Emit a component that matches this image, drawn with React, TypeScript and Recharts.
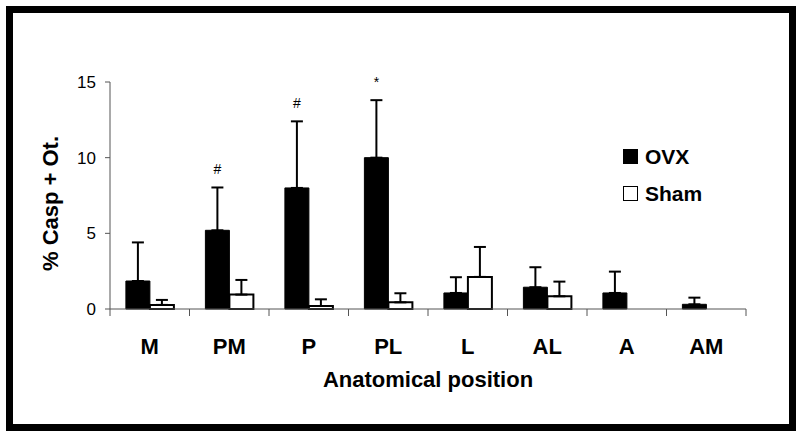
import { Bar, BarChart, ErrorBar, LabelList, Legend, XAxis, YAxis } from "recharts";

const categories = ["M", "PM", "P", "PL", "L", "AL", "A", "AM"];
const ovx = [1.85, 5.2, 8.0, 10.0, 1.06, 1.44, 1.06, 0.31];
const ovxErr = [2.55, 2.83, 4.4, 3.8, 1.04, 1.32, 1.41, 0.44];
const sham = [0.27, 0.95, 0.2, 0.44, 2.12, 0.84, 0, 0];
const shamErr = [0.33, 0.97, 0.44, 0.6, 1.98, 0.97, 0, 0];
const notes = ["", "#", "#", "*", "", "", "", ""];
const yTicks = [0, 5, 10, 15];

const FONT = "'Liberation Sans', Arial, sans-serif";
const W = 800;
const H = 436;
const MARGIN = { top: 82, right: 54, bottom: 47, left: 50 };
const Y_W = 60;
const BAND = (W - MARGIN.left - MARGIN.right - Y_W) / categories.length;
const AXIS = "#555";

const data = categories.map((c, i) => ({
  name: c,
  ovx: ovx[i],
  ovxErr: [0, ovxErr[i]],
  sham: sham[i],
  shamErr: [0, shamErr[i]],
  note: notes[i],
}));

// ticks sit between the groups, like the original excel chart
const XTick = (props: any) => {
  const { x, y, payload, index } = props;
  const half = payload?.offset || BAND / 2;
  return (
    <g>
      <line x1={x - half} x2={x - half} y1={y} y2={y + 7} stroke={AXIS} />
      {index === categories.length - 1 && (
        <line x1={x + half} x2={x + half} y1={y} y2={y + 7} stroke={AXIS} />
      )}
      <text x={x} y={y + 45} textAnchor="middle" fontSize={22} fontWeight="bold" fontFamily={FONT} fill="#000">
        {payload.value}
      </text>
    </g>
  );
};

const NoteLabel = (props: any) => {
  const { x, y, width, height, index, value } = props;
  if (!value) return null;
  const perUnit = height / ovx[index];
  const top = y - ovxErr[index] * perUnit;
  return (
    <text x={x + width / 2} y={top - 13} textAnchor="middle" fontSize={14} fontFamily={FONT} fill="#000">
      {value}
    </text>
  );
};

const YTitle = (props: any) => {
  const vb = props.viewBox || { x: 50, y: 82, width: 60, height: 227 };
  const cx = 50;
  const cy = vb.y + vb.height / 2 + 8;
  return (
    <text
      x={cx}
      y={cy}
      transform={`rotate(-90, ${cx}, ${cy})`}
      textAnchor="middle"
      dominantBaseline="central"
      fontSize={22}
      fontWeight="bold"
      fontFamily={FONT}
      fill="#000"
    >
      % Casp + Ot.
    </text>
  );
};

const renderLegend = (props: any) => {
  const items = props.payload || [];
  return (
    <div style={{ fontFamily: FONT }}>
      {items.map((it: any) => (
        <div key={it.value} style={{ display: "flex", alignItems: "center", height: 37 }}>
          <span
            style={{
              display: "inline-block",
              width: 15,
              height: 15,
              boxSizing: "border-box",
              background: it.color,
              border: "1.5px solid #000",
              marginRight: 7,
            }}
          />
          <span style={{ fontSize: 21, fontWeight: "bold", color: "#000" }}>{it.value}</span>
        </div>
      ))}
    </div>
  );
};

export default function App() {
  return (
    <div style={{ position: "absolute", left: 0, top: 0, width: W, height: H, background: "#fff", fontFamily: FONT }}>
      <div
        style={{
          position: "absolute",
          left: 6,
          top: 6,
          width: 790,
          height: 425,
          border: "7px solid #000",
          boxSizing: "border-box",
        }}
      />
      <div style={{ position: "absolute", left: 0, top: 0 }}>
        <BarChart width={W} height={H} data={data} margin={MARGIN} barCategoryGap="20%" barGap={0}>
          <XAxis
            dataKey="name"
            height={80}
            stroke={AXIS}
            tickLine={false}
            tickSize={0}
            tickMargin={0}
            tick={<XTick />}
            interval={0}
            label={{
              value: "Anatomical position",
              position: "insideBottom",
              offset: 2,
              fontSize: 22,
              fontWeight: "bold",
              fill: "#000",
              fontFamily: FONT,
            }}
          />
          <YAxis
            width={Y_W}
            domain={[0, 15]}
            ticks={yTicks}
            stroke={AXIS}
            tickSize={5}
            tickMargin={9}
            tick={{ fill: "#000", fontSize: 17, fontFamily: FONT }}
            label={<YTitle />}
          />
          <Legend
            layout="vertical"
            align="center"
            verticalAlign="middle"
            content={renderLegend}
            wrapperStyle={{ left: 623, top: 138, width: 130 }}
          />
          <Bar dataKey="ovx" name="OVX" fill="#000" stroke="#000" strokeWidth={1} isAnimationActive={false}>
            <ErrorBar dataKey="ovxErr" width={6} stroke="#000" strokeWidth={2} direction="y" />
            <LabelList dataKey="note" content={<NoteLabel />} />
          </Bar>
          <Bar dataKey="sham" name="Sham" fill="#fff" stroke="#000" strokeWidth={2} isAnimationActive={false}>
            <ErrorBar dataKey="shamErr" width={6} stroke="#000" strokeWidth={2} direction="y" />
          </Bar>
        </BarChart>
      </div>
    </div>
  );
}
